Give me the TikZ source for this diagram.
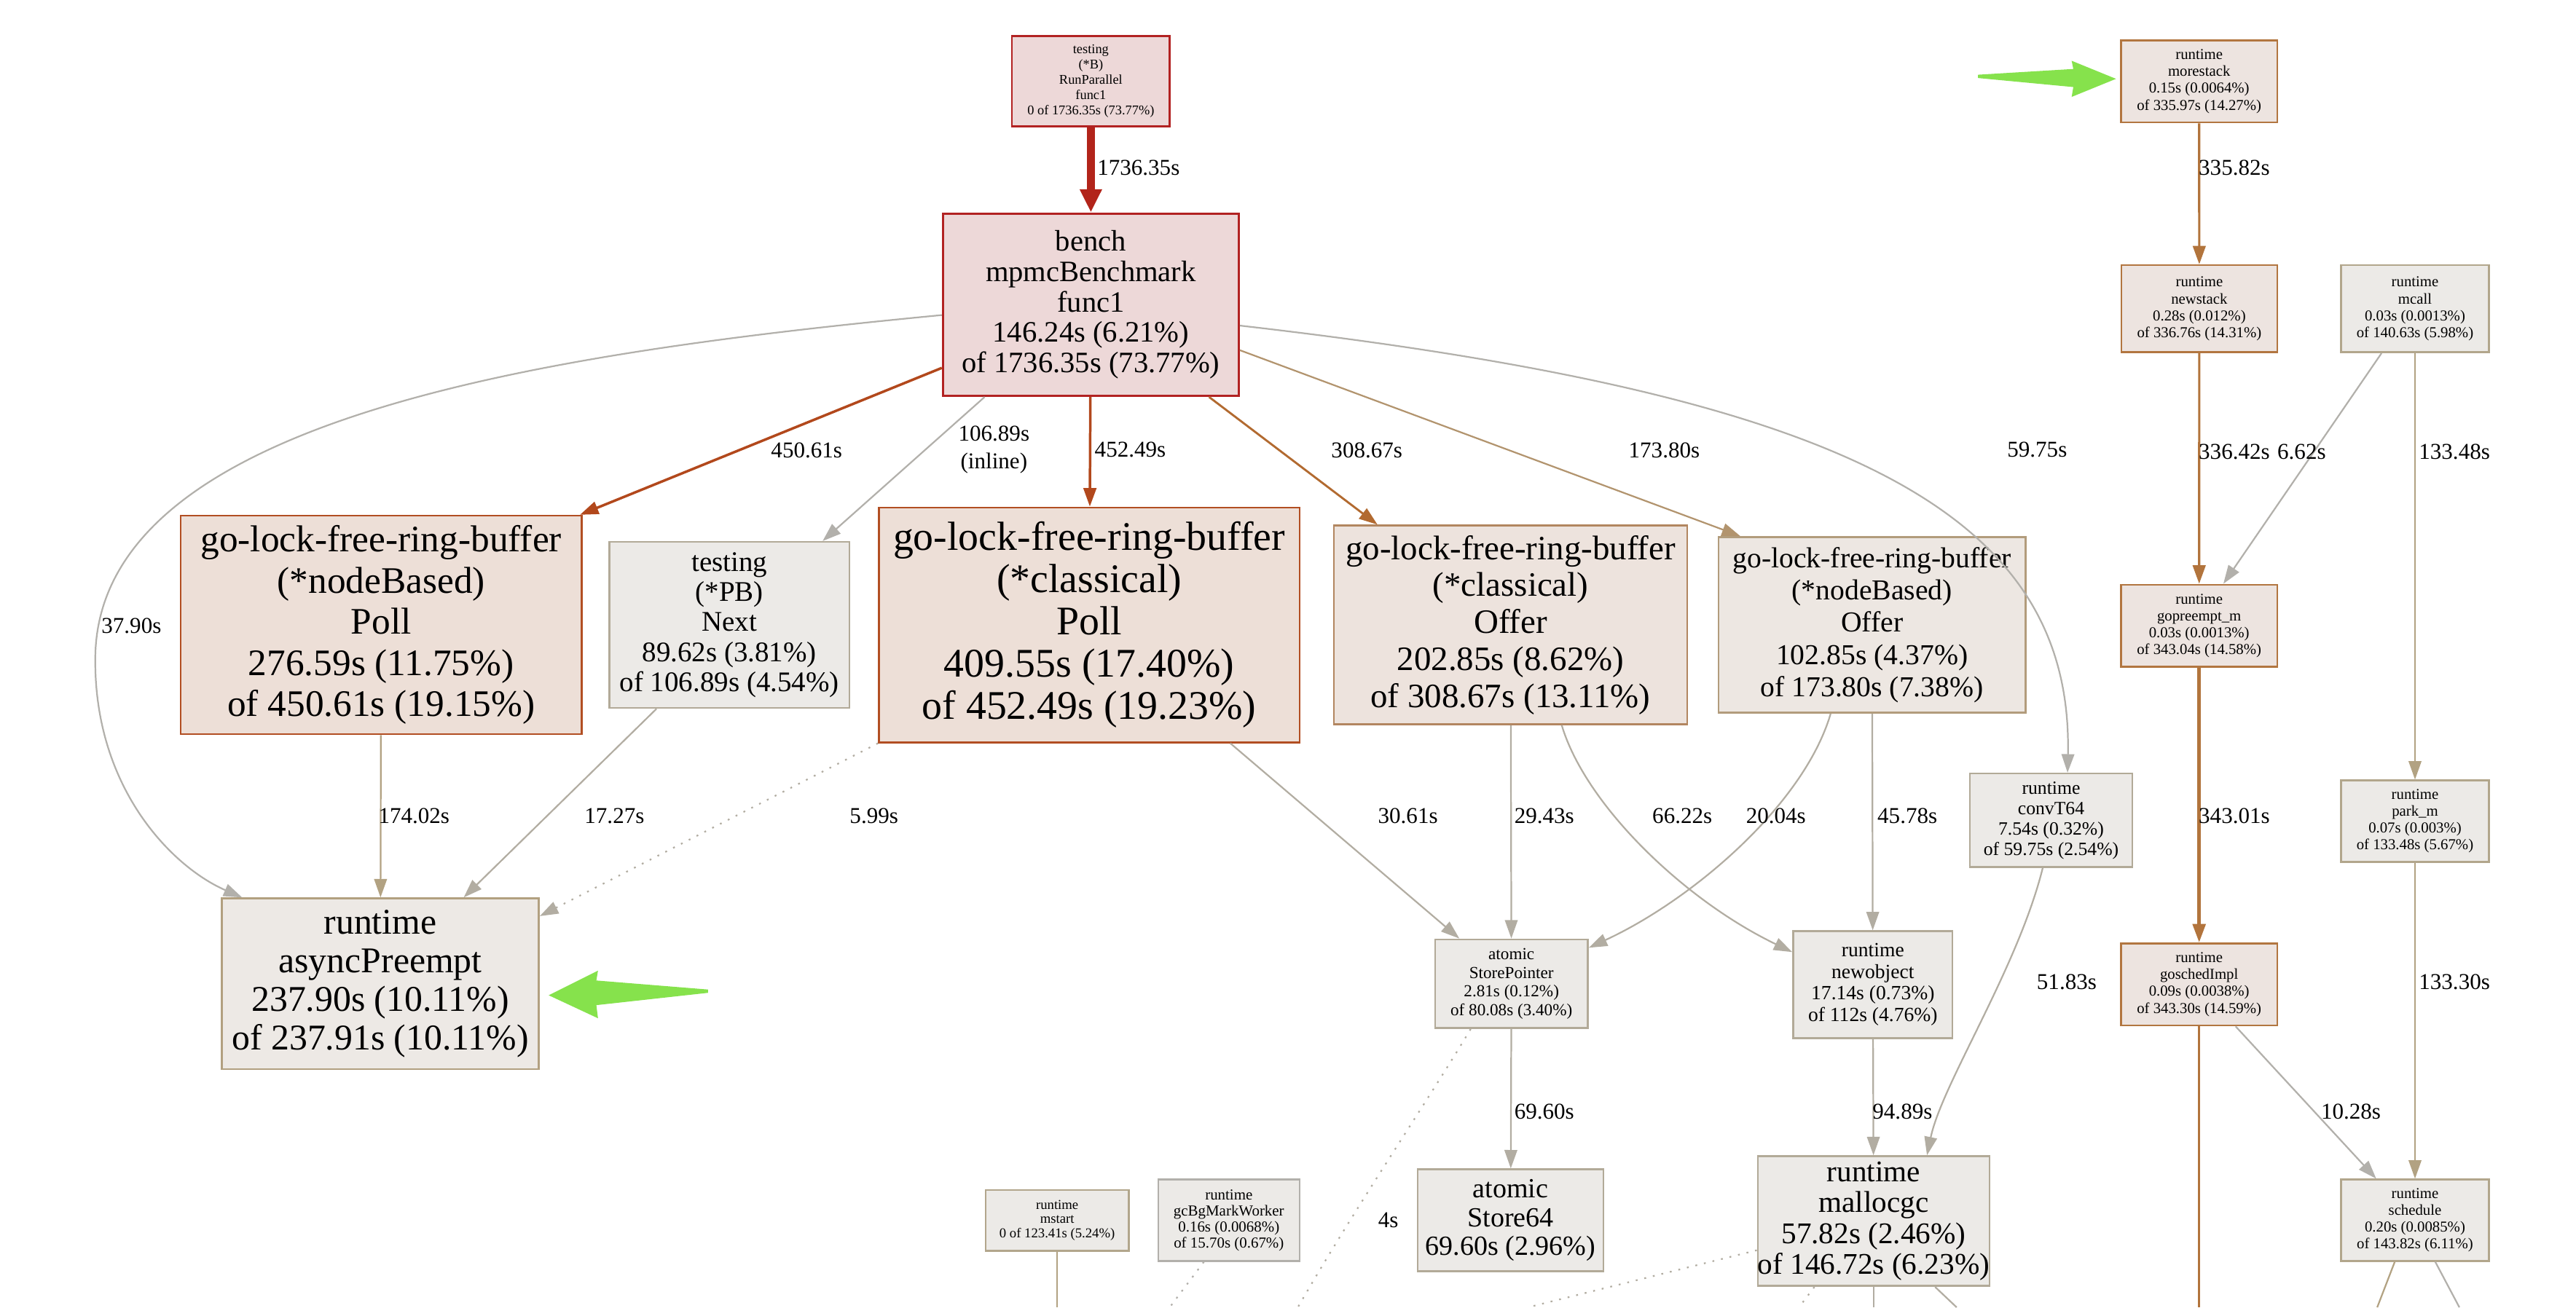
\documentclass[tikz,border=0pt]{standalone}
\usepackage{fontspec}
\setmainfont{Liberation Serif}
\usepackage{tikz}
\usetikzlibrary{arrows.meta}

\definecolor{hotline}{RGB}{178,36,26}
\definecolor{rustline}{RGB}{178,72,28}
\definecolor{brownline}{RGB}{178,106,48}
\definecolor{tanline}{RGB}{178,148,110}
\definecolor{sandline}{RGB}{178,162,130}
\definecolor{greyline}{RGB}{178,173,162}
\definecolor{paleline}{RGB}{178,176,171}
\definecolor{stackline}{RGB}{178,116,60}
\definecolor{hotfill}{RGB}{237,216,216}
\definecolor{hotdraw}{RGB}{178,34,34}
\definecolor{warmfill}{RGB}{237,223,215}
\definecolor{warmdraw}{RGB}{178,78,34}
\definecolor{midfill}{RGB}{237,227,221}
\definecolor{middraw}{RGB}{178,134,96}
\definecolor{lukefill}{RGB}{237,231,226}
\definecolor{lukedraw}{RGB}{178,156,124}
\definecolor{asyncfill}{RGB}{237,233,229}
\definecolor{asyncdraw}{RGB}{178,160,128}
\definecolor{coolfill}{RGB}{236,234,231}
\definecolor{cooldraw}{RGB}{178,170,152}
\definecolor{sanddraw}{RGB}{178,166,140}
\definecolor{stackfill}{RGB}{237,228,224}
\definecolor{stackdraw}{RGB}{178,118,64}
\definecolor{pointer}{RGB}{134,226,76}

\begin{document}
\begin{tikzpicture}[x=0.025cm, y=-0.025cm]
    \tikzstyle{every node}+=[inner sep=0pt]
    \tikzset{fn/.style 2 args={font=\fontsize{#1}{#2}\selectfont},
             sz/.style 2 args={minimum width=#1*0.025cm, minimum height=#2*0.025cm}}
    \tikzstyle{box}=[draw, rectangle, align=center, line width=0.8pt]
    \tikzstyle{hot}=[box, fill=hotfill, draw=hotdraw]
    \tikzstyle{warm}=[box, fill=warmfill, draw=warmdraw]
    \tikzstyle{cool}=[box, fill=coolfill, draw=cooldraw]
    \tikzstyle{stack}=[box, fill=stackfill, draw=stackdraw]
    \tikzstyle{small}=[fn={6.55}{7.3}]
    \tikzstyle{lbl}=[font=\fontsize{9.8}{12}\selectfont, align=center]
    \tikzstyle{call}=[line width=0.7pt, -{Triangle[length=8pt,width=5.5pt]}]
    \tikzstyle{side}=[line width=0.7pt, dash pattern=on 0.8pt off 3pt]
    \useasboundingbox (0,0) rectangle (1568,796);

    \node [hot, sz={96}{55}, fn={5.8}{6.6}] (runpar) at (664,49.5) {testing\\(*B)\\RunParallel\\func1\\0 of 1736.35s (73.77\%)};
    \node [hot, sz={180}{111}, fn={12.8}{13.2}, line width=1pt] (bench) at (664,185.5) {bench\\mpmcBenchmark\\func1\\146.24s (6.21\%)\\of 1736.35s (73.77\%)};
    \node [warm, sz={244}{133}, fn={16.2}{17.8}] (nbpoll) at (232,380.5) {go-lock-free-ring-buffer\\(*nodeBased)\\Poll\\276.59s (11.75\%)\\of 450.61s (19.15\%)};
    \node [cool, sz={146}{101}, fn={12.3}{13}] (pbnext) at (444,380.5) {testing\\(*PB)\\Next\\89.62s (3.81\%)\\of 106.89s (4.54\%)};
    \node [warm, sz={256}{143}, fn={17.6}{18.3}] (clpoll) at (663,380.5) {go-lock-free-ring-buffer\\(*classical)\\Poll\\409.55s (17.40\%)\\of 452.49s (19.23\%)};
    \node [box, fill=midfill, draw=middraw, sz={215}{121}, fn={14.8}{16}] (cloffer) at (919.5,380.5) {go-lock-free-ring-buffer\\(*classical)\\Offer\\202.85s (8.62\%)\\of 308.67s (13.11\%)};
    \node [box, fill=lukefill, draw=lukedraw, sz={187}{107}, fn={12.5}{14}] (nboffer) at (1139.5,380.5) {go-lock-free-ring-buffer\\(*nodeBased)\\Offer\\102.85s (4.37\%)\\of 173.80s (7.38\%)};
    \node [box, fill=asyncfill, draw=asyncdraw, sz={193}{104}, fn={15.7}{16.8}] (async) at (231.5,599) {runtime\\asyncPreempt\\237.90s (10.11\%)\\of 237.91s (10.11\%)};
    \node [cool, sz={93}{54}, fn={7.3}{8.1}] (storeptr) at (920,599) {atomic\\StorePointer\\2.81s (0.12\%)\\of 80.08s (3.40\%)};
    \node [cool, sz={97}{65}, fn={8.7}{9.3}] (newobj) at (1140,599.5) {runtime\\newobject\\17.14s (0.73\%)\\of 112s (4.76\%)};
    \node [cool, sz={113}{62}, fn={12}{12.4}] (store64) at (919.5,743) {atomic\\Store64\\69.60s (2.96\%)};
    \node [cool, sz={139}{79}, fn={13}{13.3}] (malloc) at (1140.5,743.5) {runtime\\mallocgc\\57.82s (2.46\%)\\of 146.72s (6.23\%)};
    \node [cool, sz={99}{57}, fn={8.1}{8.8}] (convt) at (1248.5,499.5) {runtime\\convT64\\7.54s (0.32\%)\\of 59.75s (2.54\%)};
    \node [cool, sz={87}{37}, fn={5.9}{6.1}, draw=sanddraw] (mstart) at (643.5,743) {runtime\\mstart\\0 of 123.41s (5.24\%)};
    \node [cool, sz={86}{49.5}, fn={6.6}{6.9}, draw=paleline] (gcbg) at (748,743) {runtime\\gcBgMarkWorker\\0.16s (0.0068\%)\\of 15.70s (0.67\%)};

    \node [stack, sz={95}{50}, small] (morestack) at (1338.6,49.5) {runtime\\morestack\\0.15s (0.0064\%)\\of 335.97s (14.27\%)};
    \node [stack, sz={95}{53}, small] (newstack) at (1338.7,188) {runtime\\newstack\\0.28s (0.012\%)\\of 336.76s (14.31\%)};
    \node [cool, sz={90}{53}, small, draw=sanddraw] (mcall) at (1470,188) {runtime\\mcall\\0.03s (0.0013\%)\\of 140.63s (5.98\%)};
    \node [stack, sz={95}{50}, small] (gopreempt) at (1338.6,381) {runtime\\gopreempt\_m\\0.03s (0.0013\%)\\of 343.04s (14.58\%)};
    \node [cool, sz={90}{49.5}, small, draw=sanddraw] (parkm) at (1470,500) {runtime\\park\_m\\0.07s (0.003\%)\\of 133.48s (5.67\%)};
    \node [stack, sz={95}{50}, small] (gosched) at (1338.6,599.4) {runtime\\goschedImpl\\0.09s (0.0038\%)\\of 343.30s (14.59\%)};
    \node [cool, sz={90}{49.5}, small, draw=sanddraw] (sched) at (1470,743) {runtime\\schedule\\0.20s (0.0085\%)\\of 143.82s (6.11\%)};

    \draw [call, hotline, line width=3.6pt, -{Triangle[length=10pt,width=9pt]}] (runpar) -- (bench);
    \draw [call, rustline, line width=1.1pt] (bench.203) -- (nbpoll.29);
    \draw [call, paleline] (bench.221) -- (pbnext.42);
    \draw [call, rustline, line width=1.1pt] (bench) -- (clpoll);
    \draw [call, brownline, line width=0.9pt] (bench.-38) -- (cloffer.143);
    \draw [call, tanline] (bench.-17) -- (nboffer.146);
    \draw [call, paleline] (bench.-8) .. controls (1120,240) and (1262,310) .. (convt.71);
    \draw [call, paleline] (bench.184) .. controls (330,215) and (60,255) .. (58,400) .. controls (57,480) and (105,528) .. (async.148);
    \draw [call, sandline] (nbpoll) -- (async);
    \draw [call, greyline] (pbnext.229) -- (async.46);
    \draw [side, greyline, -{Triangle[length=8pt,width=5.5pt]}] (clpoll.south west) -- (async.23);
    \draw [call, greyline] (clpoll.-40) -- (storeptr.139);
    \draw [call, greyline] (cloffer) -- (storeptr);
    \draw [call, greyline] (cloffer.-63) .. controls (965,490) and (1025,548) .. (newobj.158);
    \draw [call, greyline] (nboffer.245) .. controls (1098,490) and (1030,548) .. (storeptr.25);
    \draw [call, greyline] (nboffer) -- (newobj);
    \draw [call, greyline] (storeptr) -- (store64);
    \draw [call, greyline] (newobj) -- (malloc);
    \draw [call, greyline] (convt.260) .. controls (1228,590) and (1182,660) .. (malloc.51);

    \draw [call, stackline, line width=1pt] (morestack) -- (newstack);
    \draw [call, stackline, line width=1pt] (newstack) -- (gopreempt);
    \draw [call, paleline] (mcall.233) -- (gopreempt.60);
    \draw [call, sandline] (mcall) -- (parkm);
    \draw [call, stackline, line width=1.4pt] (gopreempt) -- (gosched);
    \draw [call, sandline] (parkm) -- (sched);
    \draw [call, paleline] (gosched.-49) -- (sched.133);

    \coordinate (out1) at (790,796);
    \coordinate (out2) at (930,796);
    \coordinate (out3) at (1095,796);
    \coordinate (out4) at (1140.5,796);
    \coordinate (out5) at (1191,796);
    \coordinate (out6) at (712,796);
    \coordinate (out7) at (643.5,796);
    \coordinate (out8) at (1338.6,796);
    \coordinate (out9) at (1447,796);
    \coordinate (out10) at (1497,796);
    \draw [side, greyline] (storeptr.228) .. controls (868,672) and (825,735) .. (out1);
    \draw [side, greyline] (malloc.194) -- (out2);
    \draw [side, greyline] (malloc.228) -- (out3);
    \draw [greyline, line width=0.7pt] (malloc) -- (out4);
    \draw [greyline, line width=0.7pt] (malloc.-47) -- (out5);
    \draw [side, paleline] (gcbg.239) -- (out6);
    \draw [sandline, line width=0.7pt] (mstart) -- (out7);
    \draw [stackline, line width=1pt] (gosched) -- (out8);
    \draw [sandline, line width=0.7pt] (sched.244) -- (out9);
    \draw [paleline, line width=0.7pt] (sched.-64) -- (out10);

    \node [lbl] (w1736) at (693,102) {1736.35s};
    \node [lbl] (w450) at (491,274) {450.61s};
    \node [lbl] (w106) at (605,274) {106.89s\\(inline)};
    \node [lbl] (w452) at (688,274) {452.49s};
    \node [lbl] (w308) at (832,274) {308.67s};
    \node [lbl] (w173) at (1013,274) {173.80s};
    \node [lbl] (w59) at (1240,274) {59.75s};
    \node [lbl] (w37) at (80,381) {37.90s};
    \node [lbl] (w174) at (252,497) {174.02s};
    \node [lbl] (w17) at (374,497) {17.27s};
    \node [lbl] (w5) at (532,497) {5.99s};
    \node [lbl] (w30) at (857,497) {30.61s};
    \node [lbl] (w29) at (940,497) {29.43s};
    \node [lbl] (w66) at (1024,497) {66.22s};
    \node [lbl] (w20) at (1081,497) {20.04s};
    \node [lbl] (w45) at (1161,497) {45.78s};
    \node [lbl] (w69) at (940,677) {69.60s};
    \node [lbl] (w94) at (1158,677) {94.89s};
    \node [lbl] (w51) at (1258,598) {51.83s};
    \node [lbl] (w4) at (845,743) {4s};
    \node [lbl] (w335) at (1360,102) {335.82s};
    \node [lbl] (w336) at (1360,275) {336.42s};
    \node [lbl] (w6) at (1401,275) {6.62s};
    \node [lbl] (w133a) at (1494,275) {133.48s};
    \node [lbl] (w343) at (1360,497) {343.01s};
    \node [lbl] (w133b) at (1494,598) {133.30s};
    \node [lbl] (w10) at (1431,677) {10.28s};

    \fill [pointer] (1204,45.5) -- (1262,42) -- (1261,37) -- (1288,48) -- (1261,59) -- (1262,53) -- (1204,47.5) -- cycle;
    \fill [pointer] (431,602.5) -- (363,597) -- (364,591) -- (334,606) -- (364,620) -- (363,612) -- (431,604.5) -- cycle;
\end{tikzpicture}
\end{document}
